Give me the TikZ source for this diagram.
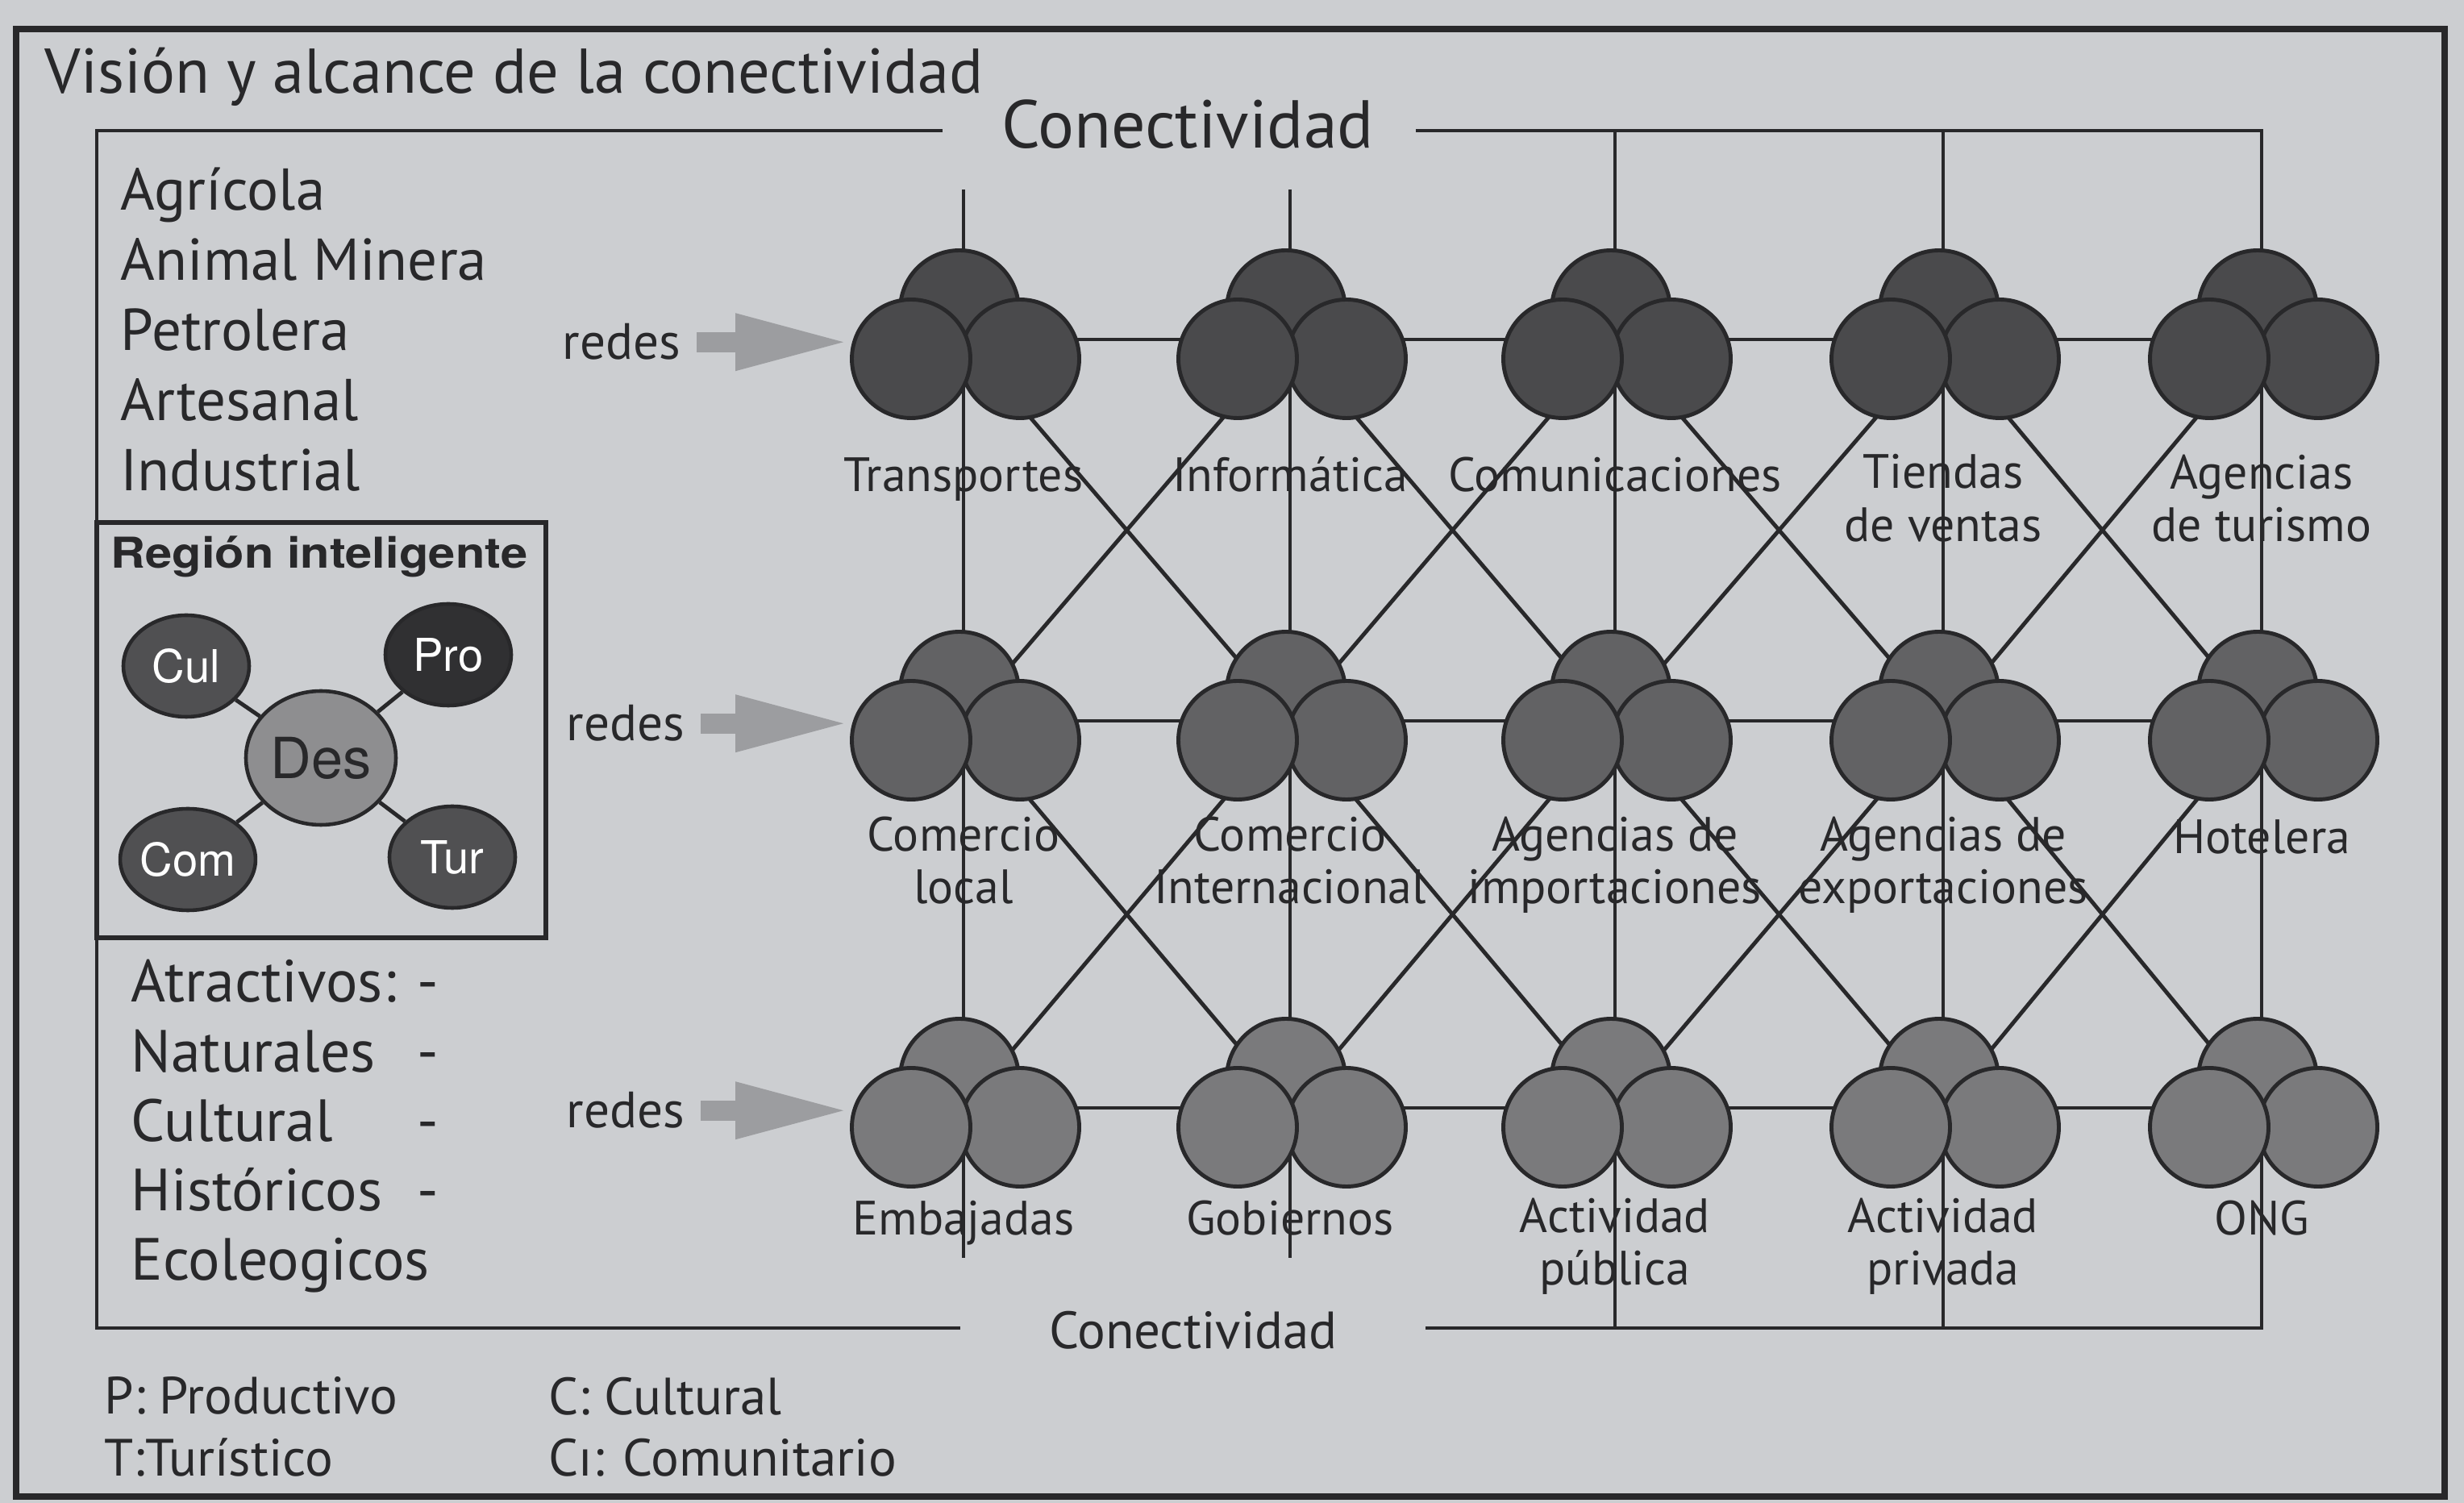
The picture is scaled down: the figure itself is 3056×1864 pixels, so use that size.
\documentclass[tikz,border=0pt]{standalone}
\usepackage{fontspec}
\setmainfont{PT Sans}
\newfontfamily\helv{TeX Gyre Heros}
\newfontfamily\helvancha[FakeStretch=1.13]{TeX Gyre Heros}
\usetikzlibrary{backgrounds,shapes.geometric,arrows.meta}

\definecolor{papel}{RGB}{204,206,209}
\definecolor{tinta}{RGB}{40,40,42}
\definecolor{nodoA}{RGB}{74,74,76}
\definecolor{nodoB}{RGB}{98,98,100}
\definecolor{nodoC}{RGB}{122,122,124}
\definecolor{nodoR}{RGB}{80,80,82}
\definecolor{nodoP}{RGB}{48,48,50}
\definecolor{nodoD}{RGB}{142,142,144}
\definecolor{flecha}{RGB}{156,157,160}

% racimo de tres bolas: nombre, x, y, color, etiqueta, y de la etiqueta
\newcommand{\racimo}[6]{%
	\coordinate (#1) at (#2,#3);
	\node[bola, fill=#4] (#1a) at ({#2-5},{#3-37}) {};
	\node[bola, fill=#4] (#1c) at ({#2+70},{#3+24}) {};
	\node[bola, fill=#4] (#1b) at ({#2-65},{#3+24}) {};
	\node[etiq] (#1l) at (#2,#6) {#5};
}

\begin{document}
\begin{tikzpicture}[x=0.1mm, y=-0.1mm,
	linea/.style={tinta, line width=1.4pt},
	bola/.style={circle, draw=tinta, line width=1.4pt, minimum size=14.7mm, inner sep=0pt},
	etiq/.style={anchor=north, align=center, inner sep=0pt, text=tinta, font=\fontsize{17}{18.5}\selectfont, execute at begin node=\strut},
	redes/.style={anchor=base east, inner sep=0pt, text=tinta, font=\fontsize{18}{20}\selectfont},
	gorda/.style={flecha, line width=2.5mm, -{Triangle[length=13.4mm, width=7.2mm, line width=0pt]}, shorten <=1.9mm, shorten >=0.8mm},
	elipse/.style={ellipse, draw=tinta, line width=1.3pt, minimum width=15.6mm, minimum height=12.6mm, inner sep=0pt, text=white, font=\helv\fontsize{16}{18}\selectfont},
	lista/.style={anchor=north west, align=left, inner sep=0pt, text=tinta}]% {{{ conectividad
	\useasboundingbox (0,0) rectangle (3056,1864);

	\draw[tinta, line width=2.3pt] (20,36) rectangle (3032,1856);
	\node[anchor=north west, inner sep=0pt, text=tinta, font=\fontsize{22.3}{26}\selectfont] (titulo) at (55,58) {Visión y alcance de la conectividad};

	% marco interior
	\node[inner sep=0pt, text=tinta, font=\fontsize{23.9}{27}\selectfont] (conA) at (1473,154) {Conectividad};
	\node[inner sep=0pt, text=tinta, font=\fontsize{18.5}{21}\selectfont] (conB) at (1480,1650) {Conectividad};
	\draw[linea] (1169,162) -| (120,1647) -- (1191,1647);
	\draw[linea] (1756,162) -| (2805,1647) -- (1768,1647);

	\node[lista, font=\fontsize{20.8}{24.75}\selectfont] (sectores) at (149,207) {Agrícola\\Animal Minera\\Petrolera\\Artesanal\\Industrial};
	\node[lista, font=\fontsize{21}{24.5}\selectfont] (atractivos) at (162,1182) {\begin{tabular}{@{}p{35.5mm}@{}l@{}}Atractivos: & -\\ Naturales & -\\ Cultural & -\\ Históricos & -\\ Ecoleogicos & \end{tabular}};
	\node[lista, font=\fontsize{18.5}{21.9}\selectfont] (leyenda1) at (129,1707) {P: Productivo\\T:Turístico};
	\node[lista, font=\fontsize{18.5}{21.9}\selectfont] (leyenda2) at (680,1707) {C: Cultural\\Cı: Comunitario};

	% region inteligente
	\draw[tinta, line width=1.5pt] (120,648) rectangle (677,1163);
	\node[anchor=north, inner sep=0pt, text=tinta, font=\helvancha\bfseries\fontsize{15}{17}\selectfont] (rtit) at (396,664) {Región inteligente};
	\node[elipse, fill=nodoR] (cul) at (231,826) {Cul};
	\node[elipse, fill=nodoP] (pro) at (556,812) {Pro};
	\node[elipse, fill=nodoR] (com) at (233,1066) {Com};
	\node[elipse, fill=nodoR] (tur) at (561,1063) {Tur};
	\node[elipse, fill=nodoD, minimum width=18.6mm, minimum height=16.6mm, text=tinta, font=\helv\fontsize{20}{22}\selectfont] (des) at (398,940) {Des};
	\draw[linea] (des) -- (cul) (des) -- (pro) (des) -- (com) (des) -- (tur);

	% racimos
	\racimo{c11}{1195}{421}{nodoA}{Transportes}{563}
	\racimo{c12}{1600}{421}{nodoA}{Informática}{563}
	\racimo{c13}{2003}{421}{nodoA}{Comunicaciones}{563}
	\racimo{c14}{2410}{421}{nodoA}{Tiendas\\de ventas}{563}
	\racimo{c15}{2805}{421}{nodoA}{Agencias\\de turismo}{563}
	\racimo{c21}{1195}{894}{nodoB}{Comercio\\local}{1012}
	\racimo{c22}{1600}{894}{nodoB}{Comercio\\Internacional}{1012}
	\racimo{c23}{2003}{894}{nodoB}{Agencias de\\importaciones}{1012}
	\racimo{c24}{2410}{894}{nodoB}{Agencias de\\exportaciones}{1012}
	\racimo{c25}{2805}{894}{nodoB}{Hotelera}{1012}
	\racimo{c31}{1195}{1374}{nodoC}{Embajadas}{1485}
	\racimo{c32}{1600}{1374}{nodoC}{Gobiernos}{1485}
	\racimo{c33}{2003}{1374}{nodoC}{Actividad\\pública}{1485}
	\racimo{c34}{2410}{1374}{nodoC}{Actividad\\privada}{1485}
	\racimo{c35}{2805}{1374}{nodoC}{ONG}{1485}

	% redes
	\node[redes] (r1) at (845,446) {redes};
	\node[redes] (r2) at (850,919) {redes};
	\node[redes] (r3) at (850,1399) {redes};
	\draw[gorda] (r1.east) -- (r1.east -| c11b.west);
	\draw[gorda] (r2.east) -- (r2.east -| c21b.west);
	\draw[gorda] (r3.east) -- (r3.east -| c31b.west);

	\begin{scope}[on background layer]
		\fill[papel] (0,0) rectangle (3056,1864);
		\draw[linea] (c11) ++(0,-186) -- (c31) -- ++(0,186);
		\draw[linea] (c12) ++(0,-186) -- (c32) -- ++(0,186);
		\draw[linea] (c13) ++(0,-259) -- (c33) -- ++(0,273);
		\draw[linea] (c14) ++(0,-259) -- (c34) -- ++(0,273);
		\draw[linea] (c11) -- (c15) (c21) -- (c25) (c31) -- (c35);
		\draw[linea] (c11) -- (c22) (c12) -- (c21) (c12) -- (c23) (c13) -- (c22)
			(c13) -- (c24) (c14) -- (c23) (c14) -- (c25) (c15) -- (c24);
		\draw[linea] (c21) -- (c32) (c22) -- (c31) (c22) -- (c33) (c23) -- (c32)
			(c23) -- (c34) (c24) -- (c33) (c24) -- (c35) (c25) -- (c34);
	\end{scope}
\end{tikzpicture}
\end{document}
